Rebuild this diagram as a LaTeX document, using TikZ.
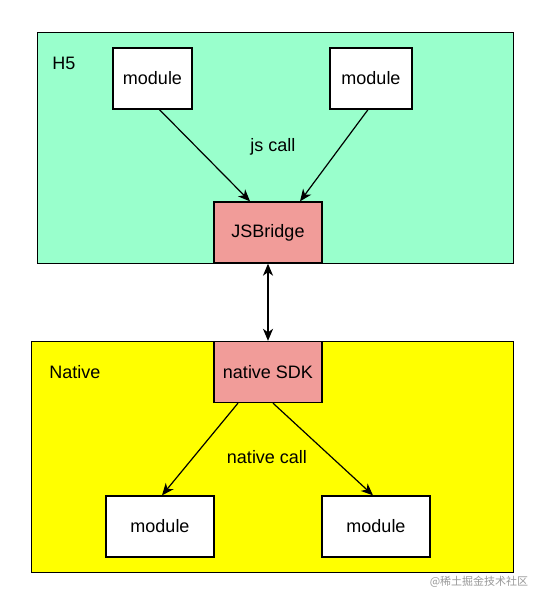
\documentclass[tikz,border=0pt]{standalone}
\usepackage{xcolor}
\usepackage{fontspec}
\setmainfont{Liberation Sans}
\newfontfamily\cjkfont{Noto Sans CJK SC}
\usetikzlibrary{arrows.meta, positioning}

\definecolor{hfivegreen}{RGB}{153,255,204}
\definecolor{nativeyellow}{RGB}{255,255,0}
\definecolor{bridgepink}{RGB}{241,156,153}

\begin{document}
\begin{tikzpicture}[
  x=1pt, y=-1pt,
  layer/.style  = {draw=black, line width=1.3pt, anchor=north west,
                   minimum height=231pt, inner sep=0pt},
  modbox/.style = {draw=black, line width=1.3pt, fill=white,
                   minimum height=61pt, font=\fontsize{18}{21}\selectfont},
  bridge/.style = {modbox, fill=bridgepink, minimum width=108pt},
  lbl/.style    = {font=\fontsize{18}{21}\selectfont},
  arr/.style    = {->, >={Stealth[length=12pt,width=10pt,inset=3.5pt]},
                   line width=1.2pt, black}
]
\useasboundingbox (0,0) rectangle (533,592);
\fill[white] (0,0) rectangle (533,592);

% H5 layer
\node[layer, fill=hfivegreen, minimum width=476pt] (h5) at (37,32) {};
\node[lbl] (h5lbl) at (64,63) {H5};
\node[modbox, minimum width=79pt] (mod1) at (152.5,78.5) {module};
\node[modbox, minimum width=82pt] (mod2) at (371,78.5) {module};
\node[bridge] (jsb) at (268,232.5) {JSBridge};
\node[lbl] (jscall) at (273,147) {js call};

% Native layer
\node[layer, fill=nativeyellow, minimum width=482pt] (native) at (31,341) {};
\node[lbl] (nativelbl) at (75,372) {Native};
\node[bridge] (sdk) at (268,372) {native SDK};
\node[modbox, minimum width=108pt] (mod3) at (160,526.5) {module};
\node[modbox, minimum width=108pt] (mod4) at (376,526.5) {module};
\node[lbl] (nativecall) at (267,457) {native call};

% connectors
\draw[arr] ([xshift=7pt]mod1.south) -- ([xshift=-18pt]jsb.north);
\draw[arr] ([xshift=-3pt]mod2.south) -- ([xshift=32pt]jsb.north);
\draw[arr, <->, line width=1.7pt] (jsb.south) -- (sdk.north);
\draw[arr] ([xshift=-30pt]sdk.south) -- ([xshift=2pt]mod3.north);
\draw[arr] ([xshift=5pt]sdk.south) -- ([xshift=-3pt]mod4.north);

% watermark
\node[text=black!40, font=\cjkfont\fontsize{11}{13}\selectfont] (mark) at (479,582) {@稀土掘金技术社区};
\end{tikzpicture}
\end{document}
